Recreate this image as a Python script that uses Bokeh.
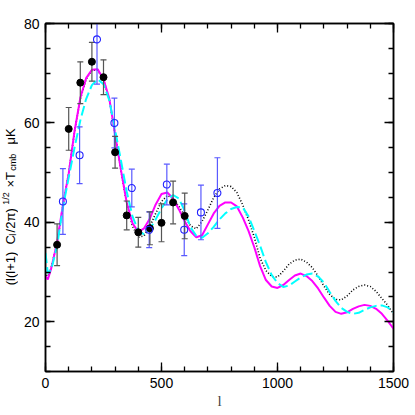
import math
from bokeh.plotting import figure
from bokeh.layouts import row
from bokeh.models import FixedTicker, Label, LinearAxis, ColumnDataSource
from bokeh.embed import file_html
from bokeh.resources import INLINE

# multipole l grid for model curves
ell = [0, 10, 25, 50, 75, 100, 125, 150, 175, 200, 225, 250, 275, 300, 325, 350,
       375, 400, 425, 450, 475, 500, 525, 550, 575, 600, 625, 650, 675, 700, 725,
       750, 775, 800, 825, 850, 875, 900, 925, 950, 975, 1000, 1025, 1050, 1075,
       1100, 1125, 1150, 1175, 1200, 1225, 1250, 1275, 1300, 1325, 1350, 1375,
       1400, 1425, 1450, 1475, 1500]

model_magenta = [29.2, 28.5, 30.8, 36.0, 43.5, 49.8, 58.3, 65.0, 69.0, 70.7, 70.8,
                 68.8, 64.9, 57.7, 50.6, 44.0, 39.8, 38.1, 38.8, 40.8, 43.6, 45.7,
                 46.0, 44.8, 42.6, 40.2, 38.2, 37.0, 37.4, 39.6, 41.8, 43.3, 44.0,
                 44.0, 43.2, 41.0, 38.3, 35.0, 31.2, 28.4, 27.1, 26.8, 27.4, 28.4,
                 29.3, 29.7, 29.2, 28.2, 26.7, 24.9, 23.2, 22.0, 21.6, 21.9, 22.6,
                 23.1, 23.4, 23.2, 22.6, 21.6, 20.2, 18.6]

model_black = [30.0, 28.8, 31.0, 35.8, 43.3, 50.0, 58.2, 64.8, 68.8, 70.6, 70.6,
               68.7, 64.8, 57.8, 50.5, 43.8, 39.2, 37.0, 37.3, 39.2, 41.8, 44.2,
               45.4, 44.8, 43.2, 41.3, 39.3, 38.7, 40.2, 42.5, 45.0, 46.7, 47.4,
               47.2, 46.0, 43.5, 40.5, 37.0, 32.8, 30.3, 29.1, 29.0, 30.2, 31.6,
               32.4, 32.6, 32.0, 30.9, 29.2, 27.2, 25.5, 24.5, 24.4, 25.2, 26.4,
               27.1, 27.4, 27.1, 26.1, 24.7, 23.3, 21.6]

model_cyan = [33.8, 29.8, 30.5, 35.3, 43.0, 49.0, 55.0, 60.5, 64.8, 67.6, 68.8,
              67.8, 64.6, 58.6, 52.5, 46.2, 41.2, 38.3, 37.6, 38.6, 40.6, 42.8,
              44.6, 45.5, 44.8, 42.3, 39.0, 37.3, 36.9, 37.8, 39.1, 40.6, 41.8,
              42.7, 43.1, 43.0, 41.2, 38.3, 35.3, 32.0, 29.4, 27.8, 27.0, 27.3,
              28.1, 28.9, 29.5, 29.7, 29.1, 27.9, 26.0, 24.2, 22.8, 22.0, 21.6,
              21.8, 22.4, 22.9, 23.2, 23.3, 22.9, 22.0]

# filled (black) data points
black_l = [50, 100, 150, 200, 250, 300, 350, 400, 450, 500, 550, 600]
black_dT = [35.5, 58.8, 68.1, 72.3, 69.2, 54.1, 41.4, 38.0, 38.8, 39.9, 44.0, 41.3]
black_err = [4.2, 4.3, 4.2, 3.9, 3.5, 3.2, 2.9, 3.0, 3.3, 3.8, 4.3, 4.6]

# open (blue) data points
blue_l = [75, 147, 222, 297, 372, 447, 523, 598, 670, 741]
blue_dT = [44.2, 53.5, 76.8, 60.0, 46.9, 38.5, 47.6, 38.5, 42.0, 45.9]
blue_err = [6.6, 5.7, 9.0, 5.0, 3.8, 3.6, 4.1, 5.2, 5.5, 7.1]

x_ticks = [0, 500, 1000, 1500]
y_ticks = [20, 40, 60, 80]

TOTAL = 415
LW = 18  # width of the strip that holds the y title

p = figure(width=TOTAL - LW, height=TOTAL, x_range=(0, 1500), y_range=(10, 80),
           output_backend="svg", toolbar_location=None,
           min_border_left=45 - LW, min_border_right=22, min_border_top=23,
           min_border_bottom=44)
p.background_fill_color = "white"
p.border_fill_color = "white"
p.grid.visible = False
p.outline_line_color = "black"
p.outline_line_width = 1.5

xt = FixedTicker(ticks=x_ticks, minor_ticks=list(range(0, 1501, 100)))
yt = FixedTicker(ticks=y_ticks, minor_ticks=list(range(10, 81, 5)))

def style_axis(ax, ticker, show_labels):
    ax.ticker = ticker
    ax.axis_line_color = "black"
    ax.axis_line_width = 1.5
    ax.major_tick_in = 9
    ax.major_tick_out = 0
    ax.minor_tick_in = 5
    ax.minor_tick_out = 0
    ax.major_tick_line_color = "black"
    ax.minor_tick_line_color = "black"
    ax.major_tick_line_width = 1.3
    ax.minor_tick_line_width = 1.3
    ax.major_label_text_font = "Liberation Sans"
    ax.major_label_text_font_size = "14px"
    ax.major_label_text_color = "black"
    ax.major_label_standoff = 6
    if not show_labels:
        ax.major_label_overrides = {t: "" for t in ticker.ticks}
        ax.major_label_standoff = 0

style_axis(p.xaxis[0], xt, True)
style_axis(p.yaxis[0], yt, True)
p.xaxis[0].axis_label = "l"
p.xaxis[0].axis_label_text_font = "Liberation Serif"
p.xaxis[0].axis_label_text_font_style = "normal"
p.xaxis[0].axis_label_text_font_size = "15px"
p.xaxis[0].axis_label_standoff = 2
top = LinearAxis()
right = LinearAxis()
style_axis(top, xt, False)
style_axis(right, yt, False)
p.add_layout(top, "above")
p.add_layout(right, "right")

# model curves
p.line(ell, model_black, line_color="black", line_width=1.6, line_dash="1 2")
p.line(ell, model_magenta, line_color="#ff00ff", line_width=2)
p.line(ell, model_cyan, line_color="#00ffff", line_width=2, line_dash="10 4")

# error bars
bsrc = ColumnDataSource(dict(x=blue_l, y=blue_dT,
                             lo=[v - e for v, e in zip(blue_dT, blue_err)],
                             hi=[v + e for v, e in zip(blue_dT, blue_err)]))
ksrc = ColumnDataSource(dict(x=black_l, y=black_dT,
                             lo=[v - e for v, e in zip(black_dT, black_err)],
                             hi=[v + e for v, e in zip(black_dT, black_err)]))
for src, col in ((bsrc, "#5a5aff"), (ksrc, "#555555")):
    p.segment(x0="x", y0="lo", x1="x", y1="hi", source=src, line_color=col, line_width=1.2)
    p.scatter(x="x", y="lo", source=src, marker="dash", size=6, line_color=col, line_width=1.2)
    p.scatter(x="x", y="hi", source=src, marker="dash", size=6, line_color=col, line_width=1.2)

p.scatter(x="x", y="y", source=ksrc, marker="circle", size=7,
          fill_color="black", line_color="black")
p.scatter(x="x", y="y", source=bsrc, marker="circle", size=7,
          fill_color=None, line_color="#2222ff", line_width=1.1)

# strip with the rotated y title (pieces with sub/superscripts)
lab = figure(width=LW, height=TOTAL, x_range=(0, LW), y_range=(10, 80),
             output_backend="svg", toolbar_location=None,
             x_axis_location=None, y_axis_location=None,
             min_border_left=0, min_border_right=0, min_border_top=23,
             min_border_bottom=44)
lab.grid.visible = False
lab.outline_line_color = None
lab.background_fill_color = "white"
lab.border_fill_color = "white"

ang = math.pi / 2
xc = 9.5
pieces = [
    ("(l(l+1)", 27.35, 0, "13px"),
    ("C", 35.56, 0, "13px"),
    ("l", 37.31, 3, "9px"),
    ("/2\u03c0)", 37.98, 0, "13px"),
    ("1/2", 43.52, -4, "9px"),
    ("\u00d7T", 47.01, 0, "13px"),
    ("cmb", 50.38, 3, "9px"),
    ("\u03bcK", 55.64, 0, "13px"),
]
for txt, yy, off, fs in pieces:
    lab.add_layout(Label(x=xc, y=yy, x_offset=off, text=txt, angle=ang,
                         text_font="Liberation Sans", text_font_size=fs,
                         text_align="left", text_baseline="middle", text_color="black"))

layout = row(lab, p, spacing=0)
open("out.html", "w").write(file_html(layout, INLINE))
